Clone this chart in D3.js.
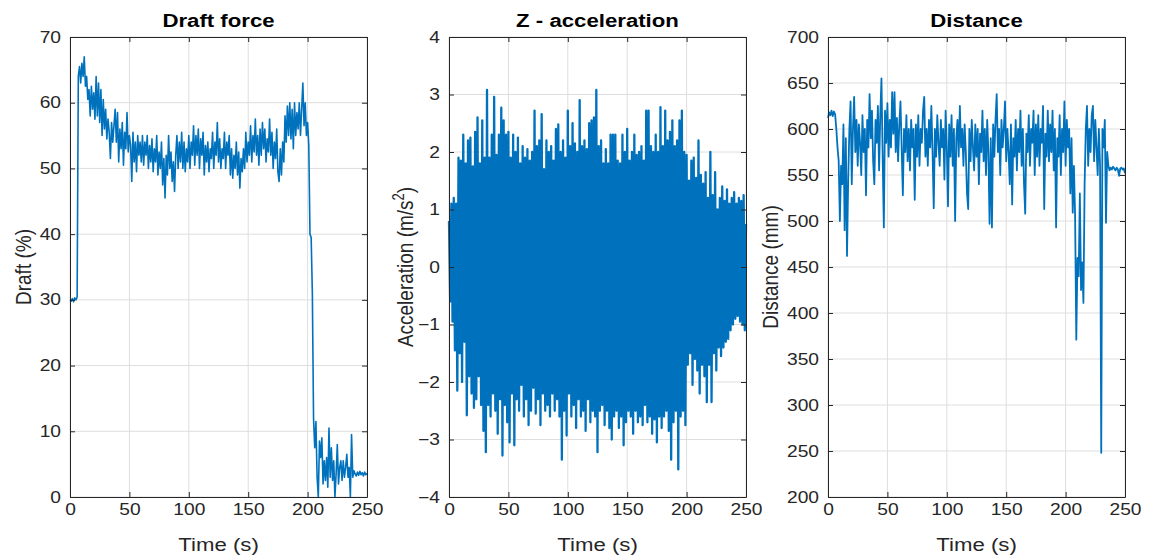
<!DOCTYPE html>
<html>
<head>
<meta charset="utf-8">
<script src="https://cdn.jsdelivr.net/npm/d3@7"></script>
<style>
  body { margin: 0; background: #fff; }
  svg text { font-family: Arial, "Liberation Sans", Helvetica, sans-serif; fill: #262626; }
</style>
</head>
<body>
<svg id="fig" width="1155" height="558"></svg>
<script>

// sampling step of the draft / distance logs (s)
const sampleStep = 1;
// accel: peaks at even seconds, troughs at odd seconds
const accelStep = 2;

const timeTicks = [0, 50, 100, 150, 200, 250];
const draftTicks = [0, 10, 20, 30, 40, 50, 60, 70];
const accelTicks = [-4, -3, -2, -1, 0, 1, 2, 3, 4];
const distTicks = [200, 250, 300, 350, 400, 450, 500, 550, 600, 650, 700];

// Draft force (%), 0..250 s
let draftPct = [
  30, 29.8, 30.2, 29.7, 30.3, 30, 30.4, 64, 65.5, 63,
  66, 64, 67, 62.5, 64, 60.5, 62, 58, 62.5, 59,
  61.5, 57.5, 64, 58, 63, 57, 62, 55, 60.5, 56,
  59, 54.5, 57.5, 55.5, 51.5, 57, 54, 56.5, 59, 54,
  58.5, 51, 56, 53, 57, 50.5, 55.5, 53, 58.5, 52.5,
  55, 53.5, 48, 55.5, 51, 54, 49.5, 55, 52, 54,
  51, 55, 50.5, 54, 52, 55, 50, 53.5, 51, 54.5,
  49.5, 53, 51, 55, 49, 52.5, 50, 54, 47.5, 51.5,
  45.5, 52, 49, 55, 50, 52.5, 48, 51, 46.5, 52,
  55, 50, 54, 51, 55.5, 50, 54, 49.5, 53, 51,
  55, 50, 54, 52, 56.5, 50.5, 55, 52, 56, 50,
  54.5, 52, 55.5, 49, 53.5, 51, 54, 49.5, 53, 51.5,
  55.5, 50, 54, 52, 57, 51, 54.5, 50, 53, 51.5,
  55.5, 50, 54, 52, 55, 49, 53, 48.5, 52, 50,
  54, 49, 52.5, 47, 51.5, 49.5, 53, 50, 55.5, 51,
  54, 52, 56.5, 51, 55, 52.5, 57.5, 52, 55, 50.5,
  56, 52, 57, 53, 56, 51, 54.5, 52.5, 57.5, 52,
  55.5, 50, 54, 51.5, 56, 49.5, 48, 53, 49, 54,
  51, 58, 54, 59.5, 55, 60, 54.5, 59, 53, 60,
  55, 58.5, 56, 60, 55, 59, 63, 56.5, 60, 55,
  57, 53.5, 40, 39.5, 31, 12, 7.5, 11.5, 3, 0,
  8.5, 6, 9, 2, 5.5, 2.5, 6, 1.5, 10.5, 3,
  7.5, 2.5, 5.5, 0, 3.5, 8, 2, 4.5, 5.5, 2.5,
  5.5, 3, 4.5, 6.5, 3, 4.5, 0, 9.5, 3, 4,
  3.5, 3.2, 3.8, 3.3, 3.9, 3.4, 3.7, 3.2, 3.8, 3.4,
  3.6
];

// Z acceleration peaks (m/s^2) at t = 0, 2, ... 250
let accelPeaks = [
  0.8, 1.1, 1.2, 1.1, 1.9, 1.85, 2.3, 1.8, 2.2, 2.25,
  1.75, 2.35, 2.6, 1.8, 2.55, 1.9, 3.08, 1.9, 2.3, 2.96,
  1.95, 2.3, 2.77, 2.55, 2.3, 2.35, 1.9, 2.3, 2.0, 2.25,
  1.8, 2.1, 1.9, 2.05, 1.85, 2.0, 2.72, 2.1, 2.2, 2.66,
  1.7, 2.2, 2.0, 2.1, 1.85, 2.4, 2.48, 2.0, 2.2, 1.9,
  2.72, 2.1, 2.5, 2.15, 2.0, 2.9, 2.1, 2.2, 2.05, 2.5,
  2.55, 2.6, 3.08, 2.1, 2.2, 1.8, 2.05, 1.8, 2.3, 2.3,
  2.3, 1.85, 1.8, 2.3, 2.0, 2.4, 1.85, 2.0, 2.3, 1.95,
  2.0, 2.1, 1.85, 2.72, 2.72, 2.1, 2.0, 2.3, 2.0, 2.78,
  2.1, 2.72, 2.2, 2.35, 2.55, 2.1, 2.2, 2.55, 2.72, 2.0,
  1.95, 1.5, 1.85, 1.9, 1.55, 2.2, 1.6, 1.45, 1.65, 1.2,
  2.0, 1.25, 1.65, 1.0, 1.2, 1.4, 1.15, 1.35, 1.1, 1.2,
  1.3, 1.1, 1.2, 1.15, 1.25, 0.75
];

// Z acceleration troughs at t = 1, 3, ... 249
let accelTroughs = [
  -0.6, -0.95, -1.45, -2.15, -1.5, -2.0, -1.3, -2.58, -1.9, -2.2,
  -2.45, -2.3, -1.9, -2.4, -2.85, -3.22, -2.4, -2.6, -2.2, -2.5,
  -2.9, -2.3, -3.28, -2.4, -2.7, -3.05, -2.2, -3.1, -2.3, -2.5,
  -2.05, -2.6, -2.3, -2.75, -2.5, -2.1, -2.55, -2.3, -2.75, -2.2,
  -2.5, -2.4, -2.6, -2.2, -2.5, -2.3, -2.6, -3.35, -2.5, -2.93,
  -2.2, -2.6, -2.4, -2.8, -2.3, -2.6, -2.5, -2.85, -2.3, -2.7,
  -2.5, -2.6, -3.22, -2.5, -2.4, -2.75, -2.5, -2.8, -3.0, -2.6,
  -2.5, -2.8, -2.6, -3.1, -2.7, -2.5, -2.6, -2.9, -2.5, -2.7,
  -2.6, -2.75, -2.4, -2.7, -2.6, -2.9, -2.65, -3.05, -2.6, -2.8,
  -2.6, -2.5, -2.85, -3.35, -2.7, -2.5, -3.52, -2.6, -2.5, -2.75,
  -1.7, -1.5, -2.05, -1.6, -1.8, -2.2, -1.7, -1.9, -2.35, -1.7,
  -2.35, -1.5, -1.8, -1.4, -1.55, -1.4, -1.3, -1.25, -1.1, -1.0,
  -0.9, -0.85, -0.95, -1.0, -1.1
];

// Distance (mm), 0..250 s
let distMm = [
  612, 618, 615, 620, 614, 619, 616, 600, 580, 565,
  500, 560, 540, 605, 490, 590, 462, 545, 600, 630,
  540, 600, 635, 575, 610, 560, 605, 585, 550, 615,
  575, 600, 528, 610, 580, 638, 590, 620, 565, 540,
  610, 585, 625, 555, 615, 655, 570, 493, 620, 585,
  628, 570, 610, 580, 640, 595, 640, 575, 612, 565,
  605, 630, 580, 528, 600, 575, 615, 565, 600, 555,
  610, 580, 600, 523, 605, 570, 615, 560, 600, 585,
  620, 635, 570, 600, 560, 610, 580, 625, 575, 514,
  600, 570, 615, 585, 560, 610, 580, 600, 545, 620,
  580, 516, 605, 570, 615, 560, 600, 500, 590, 610,
  570, 625, 580, 600, 560, 605, 575, 530, 513, 600,
  565, 610, 580, 555, 605, 570, 600, 540, 595, 575,
  620, 565, 600, 550, 610, 575, 497, 590, 493, 605,
  570, 610, 638, 575, 600, 550, 610, 580, 600, 630,
  565, 600, 575, 540, 605, 518, 590, 570, 610, 555,
  600, 575, 620, 560, 600, 540, 508, 595, 575, 615,
  560, 600, 585, 620, 550, 605, 570, 615, 560, 600,
  585, 625, 513, 595, 570, 620, 565, 605, 575, 620,
  555, 600, 493, 590, 570, 615, 550, 600, 575, 630,
  560, 610, 580, 600, 530, 590, 509, 560, 505, 371,
  460, 440, 530, 425, 455, 411, 540, 600, 625, 560,
  600, 575, 615, 625, 565, 610, 580, 550, 600, 560,
  248, 600, 580, 610, 498, 575, 560, 555, 558, 556,
  559, 557, 555, 558, 556, 549, 557, 558, 556, 557,
  552
];

const svg = d3.select('#fig');
const W = 297, H = 460, plotTop = 37;
const lineColor = '#0072bd';
// the source figure was stretched sideways, text included
const sx = 1.2;

function drawPanel(cfg) {
  let g = svg.append('g').attr('transform', `translate(${cfg.left},${plotTop})`);

  let x = d3.scaleLinear().domain([0, 250]).range([0, W]);
  let y = d3.scaleLinear().domain(cfg.yDomain).range([H, 0]);

  // grid
  g.append('g').selectAll('line').data(timeTicks).join('line')
    .attr('x1', d => x(d)).attr('x2', d => x(d))
    .attr('y1', 0).attr('y2', H)
    .attr('stroke', '#dedede');
  g.append('g').selectAll('line').data(cfg.yTicks).join('line')
    .attr('x1', 0).attr('x2', W)
    .attr('y1', d => y(d)).attr('y2', d => y(d))
    .attr('stroke', '#dedede');

  let line = d3.line()
    .x(d => x(d[0]))
    .y(d => y(d[1]));

  g.append('path')
    .datum(cfg.points)
    .attr('d', line)
    .attr('fill', 'none')
    .attr('stroke', lineColor)
    .attr('stroke-width', cfg.lw)
    .attr('stroke-linejoin', 'round');

  // box with inward ticks
  let axes = [
    [d3.axisBottom(x).tickValues(timeTicks).tickPadding(7), `translate(0,${H})`, true, false],
    [d3.axisTop(x).tickValues(timeTicks), 'translate(0,0)', false, false],
    [d3.axisLeft(y).tickValues(cfg.yTicks).tickPadding(9), 'translate(0,0)', true, true],
    [d3.axisRight(y).tickValues(cfg.yTicks), `translate(${W},0)`, false, false]
  ];
  axes.forEach(([ax, tr, labels, isLeft]) => {
    ax.tickSizeInner(-5).tickSizeOuter(0);
    if (!labels) ax.tickFormat('');
    let a = g.append('g').attr('transform', tr).call(ax);
    a.attr('font-size', 16).attr('font-family', null).attr('color', '#262626');
    a.select('.domain').attr('stroke', '#262626');
    a.selectAll('text').attr('transform', `scale(${sx},1)`);
    if (isLeft) a.selectAll('text').attr('x', -9 / sx);
  });

  // title and labels
  g.append('text')
    .attr('transform', `translate(${W / 2},${27 - plotTop}) scale(${sx},1)`)
    .attr('text-anchor', 'middle')
    .attr('font-size', 18.5).attr('font-weight', 'bold')
    .style('fill', '#000')
    .text(cfg.title);

  g.append('text')
    .attr('transform', `translate(${W / 2},${551 - plotTop}) scale(${sx},1)`)
    .attr('text-anchor', 'middle')
    .attr('font-size', 18.5)
    .text('Time (s)');

  let yl = g.append('text')
    .attr('transform', `translate(${cfg.yLabelX - cfg.left},${H / 2}) scale(${sx},1) rotate(-90)`)
    .attr('text-anchor', 'middle')
    .attr('font-size', 19);
  cfg.yLabel.forEach(part => {
    let ts = yl.append('tspan').text(part.t);
    if (part.sup) ts.attr('font-size', 13).attr('baseline-shift', '7');
  });
}

let draftPts = draftPct.map((v, i) => [i * sampleStep, v]);
let distPts = distMm.map((v, i) => [i * sampleStep, v]);
let accelPts = [];
accelPeaks.forEach((v, i) => {
  accelPts.push([i * accelStep, v]);
  if (i < accelTroughs.length) accelPts.push([i * accelStep + 1, accelTroughs[i]]);
});

drawPanel({
  left: 70, title: 'Draft force', yDomain: [0, 70], yTicks: draftTicks,
  points: draftPts, lw: 1.6, yLabelX: 31, yLabel: [{ t: 'Draft (%)' }]
});
drawPanel({
  left: 449, title: 'Z - acceleration', yDomain: [-4, 4], yTicks: accelTicks,
  points: accelPts, lw: 2.3, yLabelX: 413,
  yLabel: [{ t: 'Acceleration (m/s' }, { t: '2', sup: true }, { t: ')' }]
});
drawPanel({
  left: 828, title: 'Distance', yDomain: [200, 700], yTicks: distTicks,
  points: distPts, lw: 1.8, yLabelX: 778, yLabel: [{ t: 'Distance (mm)' }]
});

</script>
</body>
</html>
